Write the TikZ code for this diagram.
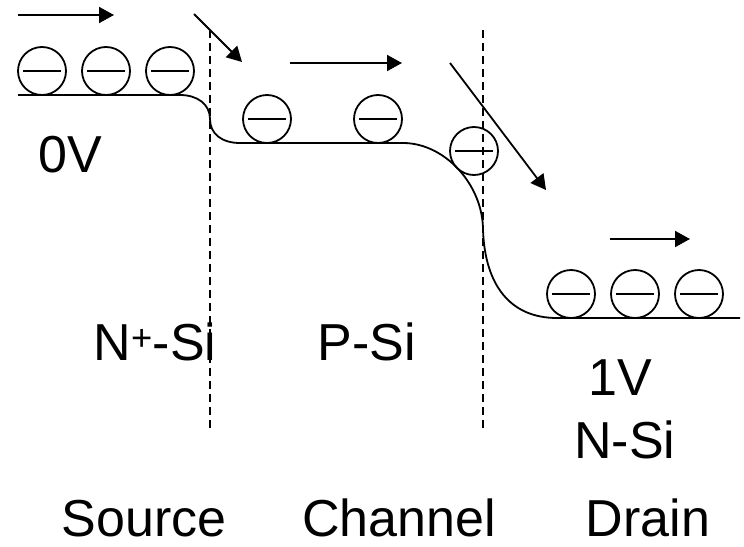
\documentclass[tikz,border=0pt]{standalone}
\usepackage{fontspec}
\setmainfont{Liberation Sans}
\usetikzlibrary{arrows.meta}
\begin{document}
\begin{tikzpicture}[x=1pt,y=-1pt,
  line width=1.8pt,
  electron/.style={draw,circle,minimum size=48pt,inner sep=0pt,line width=1.8pt,
    path picture={\draw[line width=1.8pt]
      ([xshift=5pt]path picture bounding box.west) -- ([xshift=-5pt]path picture bounding box.east);}},
  move/.style={-{Triangle[length=15pt,width=16pt]},line width=1.8pt},
  border/.style={dash pattern=on 8pt off 5pt,line width=1.6pt},
  lbl/.style={anchor=base,inner sep=0pt,font=\fontsize{52}{60}\selectfont}]
\useasboundingbox (0,0) rectangle (744,546);
% band edge
\draw (18,95) -- (180,95)
  .. controls (197,95) and (210,104) .. (210,119)
  .. controls (210,134) and (222,143) .. (240,143)
  -- (403,143)
  .. controls (445,143) and (483,185) .. (483,230)
  .. controls (485,285) and (510,318) .. (557,318)
  -- (740,318);
% region borders
\coordinate (d1t) at (210,30); \coordinate (d1b) at (210,430);
\coordinate (d2t) at (483,30); \coordinate (d2b) at (483,430);
\draw[border] (d1t) -- (d1b);
\draw[border] (d2t) -- (d2b);
% electrons
\node[electron] (e1) at (42,71) {};
\node[electron] (e2) at (106,71) {};
\node[electron] (e3) at (170,71) {};
\node[electron] (e4) at (267,119) {};
\node[electron] (e5) at (378,119) {};
\node[electron] (e6) at (474,151) {};
\node[electron] (e7) at (571,294) {};
\node[electron] (e8) at (635,294) {};
\node[electron] (e9) at (699,294) {};
% arrows
\coordinate (a1s) at (18,15);  \coordinate (a1e) at (114,15);
\coordinate (a2s) at (194,14); \coordinate (a2e) at (242,62);
\coordinate (a3s) at (290,63); \coordinate (a3e) at (402,63);
\coordinate (a4s) at (450,63); \coordinate (a4e) at (546,190);
\coordinate (a5s) at (610,239); \coordinate (a5e) at (690,239);
\draw[move] (a1s) -- (a1e);
\draw[move] (a2s) -- (a2e);
\draw[move] (a3s) -- (a3e);
\draw[move] (a4s) -- (a4e);
\draw[move] (a5s) -- (a5e);
% labels
\node[lbl] (v0) at (70,172) {0V};
\node[lbl] (nps) at (155,360) {N\textsuperscript{+}-Si};
\node[lbl] (ps) at (367,360) {P-Si};
\node[lbl] (v1) at (620,395) {1V};
\node[lbl] (ns) at (625,458) {N-Si};
\node[lbl] (src) at (144,536) {Source};
\node[lbl] (ch) at (399,536) {Channel};
\node[lbl] (dr) at (648,536) {Drain};
\end{tikzpicture}
\end{document}
